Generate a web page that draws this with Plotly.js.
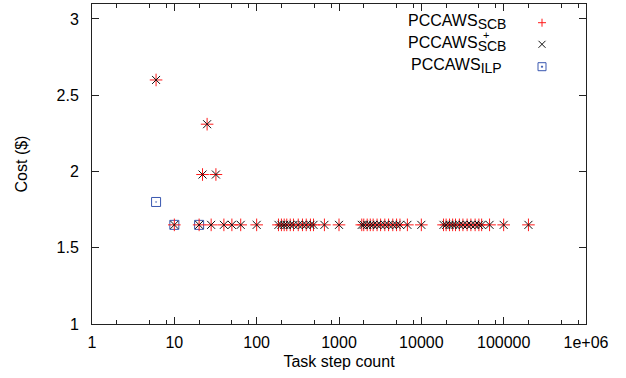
<!DOCTYPE html>
<html>
<head>
<meta charset="utf-8">
<script src="https://cdn.plot.ly/plotly-3.0.1.min.js"></script>
<style>html,body{margin:0;padding:0;background:#fff;}#chart{width:626px;height:378px;}</style>
</head>
<body>
<div id="chart"></div>
<script>
// Data
const scbSteps = [6, 10, 20, 22, 25, 28, 32, 40, 50, 64, 100,
  184, 200, 216, 232, 256, 280, 320, 360, 400, 450, 490, 665, 1000,
  1890, 2000, 2200, 2400, 2600, 2900, 3200, 3600, 4000, 4500, 5000, 5500, 6770, 10000,
  18600, 20000, 22000, 24000, 26000, 29000, 32000, 36000, 40000, 45000, 50000, 54000, 67400, 100000, 200000];
const scbCost = [2.6, 1.65, 1.65, 1.98, 2.31, 1.65, 1.98, 1.65, 1.65, 1.65, 1.65,
  1.65, 1.65, 1.65, 1.65, 1.65, 1.65, 1.65, 1.65, 1.65, 1.65, 1.65, 1.65, 1.65,
  1.65, 1.65, 1.65, 1.65, 1.65, 1.65, 1.65, 1.65, 1.65, 1.65, 1.65, 1.65, 1.65, 1.65,
  1.65, 1.65, 1.65, 1.65, 1.65, 1.65, 1.65, 1.65, 1.65, 1.65, 1.65, 1.65, 1.65, 1.65, 1.65];
const scbPlusSteps = scbSteps.slice();
const scbPlusCost = scbCost.slice();
const ilpSteps = [6, 10, 20];
const ilpCost = [1.8, 1.65, 1.65];

const xTickVals = [1, 10, 100, 1000, 10000, 100000, 1000000];
const xTickText = ['1', '10', '100', '1000', '10000', '100000', '1e+06'];
const xMinorVals = [];
[1, 10, 100, 1000, 10000, 100000].forEach(d => [2, 5, 8].forEach(m => xMinorVals.push(d * m)));
const yTickVals = [1, 1.5, 2, 2.5, 3];
const yTickText = ['1', '1.5', '2', '2.5', '3'];

const sub = s => '<sub><span style="font-size:14px">' + s + '</span></sub>';
const legendNames = ['PCCAWS' + sub('SCB'), 'PCCAWS' + sub('SCB'), 'PCCAWS' + sub('ILP')];

// geometry helpers (pixel -> paper)
const L = 92, R = 40, T = 4, B = 54, W = 626, H = 378;
const pw = W - L - R, ph = H - T - B;
const px = x => (x - L) / pw;
const py = y => (H - B - y) / ph;

const FONT = 'Liberation Sans, Arial, sans-serif';
const FS = 16;

const traces = [
  {x: ilpSteps, y: ilpCost, type: 'scatter', mode: 'markers', name: 'ILP',
   marker: {symbol: 'square-open-dot', size: 9, color: '#3a58b0', line: {width: 1, color: '#3a58b0'}}},
  {x: scbSteps, y: scbCost, type: 'scatter', mode: 'markers', name: 'SCB',
   marker: {symbol: 'cross-thin', size: 9, line: {width: 1, color: '#ff1a1a'}}},
  {x: scbPlusSteps, y: scbPlusCost, type: 'scatter', mode: 'markers', name: 'SCB+',
   marker: {symbol: 'x-thin', size: 8, line: {width: 1, color: '#111111'}}}
];

const rowY = [22.7, 44.3, 66.7];
const textY = [22, 44, 66];
const annotations = [];
legendNames.forEach((n, i) => {
  annotations.push({xref: 'paper', yref: 'paper', x: px(i === 2 ? 504 : 508), y: py(textY[i]),
    xanchor: 'right', yanchor: 'middle', showarrow: false, text: n,
    font: {family: FONT, size: FS, color: '#000'}});
});
annotations.push({xref: 'paper', yref: 'paper', x: px(481), y: py(35), xanchor: 'left', yanchor: 'middle',
  showarrow: false, text: '+', font: {family: FONT, size: 11, color: '#000'}});

const sx = 542, hs = 4;
const shapes = [
  {type: 'line', xref: 'paper', yref: 'paper', x0: px(sx - hs), x1: px(sx + hs), y0: py(rowY[0]), y1: py(rowY[0]), line: {color: '#ff1a1a', width: 1}},
  {type: 'line', xref: 'paper', yref: 'paper', x0: px(sx), x1: px(sx), y0: py(rowY[0] - hs), y1: py(rowY[0] + hs), line: {color: '#ff1a1a', width: 1}},
  {type: 'line', xref: 'paper', yref: 'paper', x0: px(sx - 3.5), x1: px(sx + 3.5), y0: py(rowY[1] - 3.5), y1: py(rowY[1] + 3.5), line: {color: '#111', width: 1}},
  {type: 'line', xref: 'paper', yref: 'paper', x0: px(sx - 3.5), x1: px(sx + 3.5), y0: py(rowY[1] + 3.5), y1: py(rowY[1] - 3.5), line: {color: '#111', width: 1}},
  {type: 'rect', xref: 'paper', yref: 'paper', x0: px(sx - 4), x1: px(sx + 4), y0: py(rowY[2] - 4), y1: py(rowY[2] + 4), line: {color: '#3a58b0', width: 1}},
  {type: 'rect', xref: 'paper', yref: 'paper', x0: px(sx - 0.6), x1: px(sx + 0.6), y0: py(rowY[2] - 0.6), y1: py(rowY[2] + 0.6), line: {color: '#3a58b0', width: 0.8}, fillcolor: '#3a58b0'}
];

const layout = {
  width: W, height: H,
  margin: {l: L, r: R, t: T, b: B, pad: 0},
  paper_bgcolor: '#fff', plot_bgcolor: '#fff',
  showlegend: false,
  font: {family: FONT, size: FS, color: '#000'},
  xaxis: {
    type: 'log', range: [0, 6], autorange: false,
    tickvals: xTickVals, ticktext: xTickText,
    ticks: 'inside', ticklen: 7, tickwidth: 1, tickcolor: '#222',
    minor: {tickvals: xMinorVals, ticks: 'inside', ticklen: 4, tickwidth: 1, tickcolor: '#222', showgrid: false},
    showline: true, linecolor: '#222', linewidth: 1, mirror: 'ticks',
    showgrid: false, zeroline: false,
    tickfont: {family: FONT, size: FS, color: '#000'},
    ticklabelstandoff: 4,
    title: {text: 'Task step count', font: {family: FONT, size: FS, color: '#000'}, standoff: 5}
  },
  yaxis: {
    range: [1, 3.098], autorange: false,
    tickvals: yTickVals, ticktext: yTickText,
    ticks: 'inside', ticklen: 7, tickwidth: 1, tickcolor: '#222',
    showline: true, linecolor: '#222', linewidth: 1, mirror: 'ticks',
    showgrid: false, zeroline: false,
    tickfont: {family: FONT, size: FS, color: '#000'},
    ticklabelstandoff: 9,
    title: {text: 'Cost ($)', font: {family: FONT, size: FS, color: '#000'}, standoff: 24}
  },
  annotations: annotations,
  shapes: shapes
};

Plotly.newPlot('chart', traces, layout, {displayModeBar: false, staticPlot: true});
</script>
</body>
</html>
